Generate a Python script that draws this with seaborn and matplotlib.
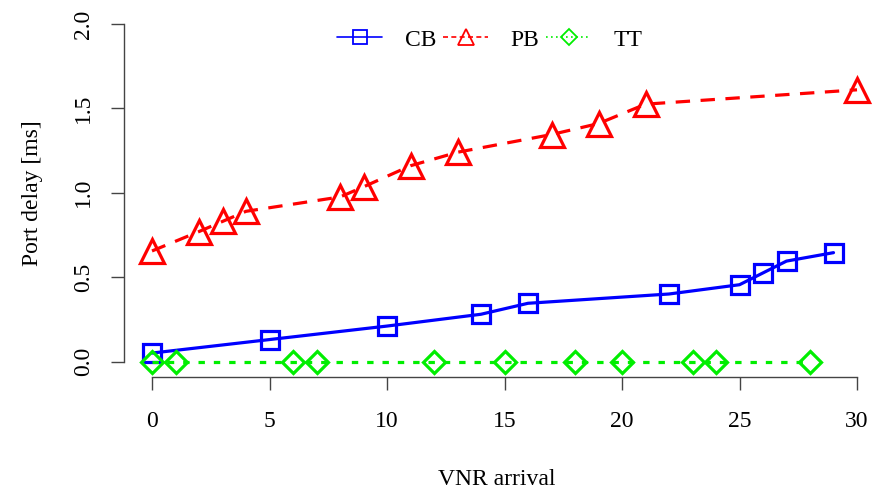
import matplotlib
matplotlib.use("Agg")
import matplotlib.pyplot as plt
import seaborn as sns
import pandas as pd
from matplotlib.lines import Line2D

sns.set_style("white")
plt.rcParams['font.family'] = ['Liberation Serif', 'DejaVu Serif']
plt.rcParams['text.color'] = 'black'
plt.rcParams['axes.labelcolor'] = 'black'
plt.rcParams['xtick.color'] = 'black'
plt.rcParams['ytick.color'] = 'black'

cb_x = [0, 5, 10, 14, 16, 22, 25, 26, 27, 29]
cb_y = [0.05, 0.13, 0.21, 0.28, 0.345, 0.40, 0.455, 0.525, 0.595, 0.645]
pb_x = [0, 2, 3, 4, 8, 9, 11, 13, 17, 19, 21, 30]
pb_y = [0.655, 0.77, 0.83, 0.89, 0.975, 1.035, 1.16, 1.24, 1.345, 1.41, 1.525, 1.61]
tt_x = [0, 1, 6, 7, 12, 15, 18, 20, 23, 24, 28]
tt_y = [0, 0, 0, 0, 0, 0, 0, 0, 0, 0, 0]
labels = ["CB", "PB", "TT"]
x_ticks = [0, 5, 10, 15, 20, 25, 30]
y_ticks = [0.0, 0.5, 1.0, 1.5, 2.0]

W, H = 873, 495
FS = 17
fig = plt.figure(figsize=(W / 100, H / 100), dpi=100)
ax_left, ax_bottom, ax_right, ax_top = 124, 377, 870, 10
ax = fig.add_axes([ax_left / W, (H - ax_bottom) / H, (ax_right - ax_left) / W, (ax_bottom - ax_top) / H])

lw = 2.3
styles = [
    dict(color="#0000ff", marker="s", markersize=13.5, ls="-"),
    dict(color="#ff0000", marker="^", markersize=17, ls=(0, (4.5, 3.3))),
    dict(color="#00ee00", marker="D", markersize=11.5, ls=(0, (2.0, 2.8))),
]
series = [(cb_x, cb_y), (pb_x, pb_y), (tt_x, tt_y)]
for (xs, ys), st, lab in zip(series, styles, labels):
    df = pd.DataFrame({"x": xs, "y": ys})
    sns.lineplot(data=df, x="x", y="y", ax=ax, color=st["color"], linestyle=st["ls"],
                 linewidth=lw, marker=st["marker"], markersize=st["markersize"],
                 markerfacecolor="none", markeredgecolor=st["color"],
                 markeredgewidth=2.3, clip_on=False)

xpx = 23.5
ypx = 168.75
ax.set_xlim((ax_left - 152) / xpx, (ax_right - 152) / xpx)
ax.set_ylim(-(ax_bottom - 361.5) / ypx, (361.5 - ax_top) / ypx)

for s in ["top", "right"]:
    ax.spines[s].set_visible(False)
ax.spines["left"].set_bounds(0, 2)
ax.spines["bottom"].set_bounds(0, 30)
for s in ["left", "bottom"]:
    ax.spines[s].set_color("#444444")
    ax.spines[s].set_linewidth(1.0)

ax.set_xticks(x_ticks)
ax.set_xticklabels([str(v) for v in x_ticks])
ax.set_yticks(y_ticks)
ax.set_yticklabels([f"{v:.1f}" for v in y_ticks], rotation=90, va="center")
ax.tick_params(axis="both", direction="out", length=9.4, width=1.0, color="#444444",
               labelsize=FS, left=True, bottom=True, labelcolor="black")
ax.tick_params(axis="x", pad=15)
ax.tick_params(axis="y", pad=12)

ax.set_xlabel("VNR arrival", fontsize=FS, labelpad=27)
ax.set_ylabel("Port delay [ms]", fontsize=FS, labelpad=22)

leg_ls = ["-", (0, (3, 2)), (0, (1, 2))]
handles = [Line2D([], [], color=st["color"], linestyle=leg_ls[i],
                  linewidth=1.2, marker=st["marker"], markersize=st["markersize"] * 0.7,
                  markerfacecolor="none", markeredgecolor=st["color"], markeredgewidth=1.3)
           for i, st in enumerate(styles)]
ax.legend(handles, labels, loc="center", bbox_to_anchor=((490 - ax_left) / (ax_right - ax_left),
                                                         (ax_bottom - 40) / (ax_bottom - ax_top)),
          ncol=3, frameon=False, fontsize=FS, handlelength=1.9, handletextpad=0.95,
          columnspacing=0.3)

fig.savefig("out.png", dpi=100)
